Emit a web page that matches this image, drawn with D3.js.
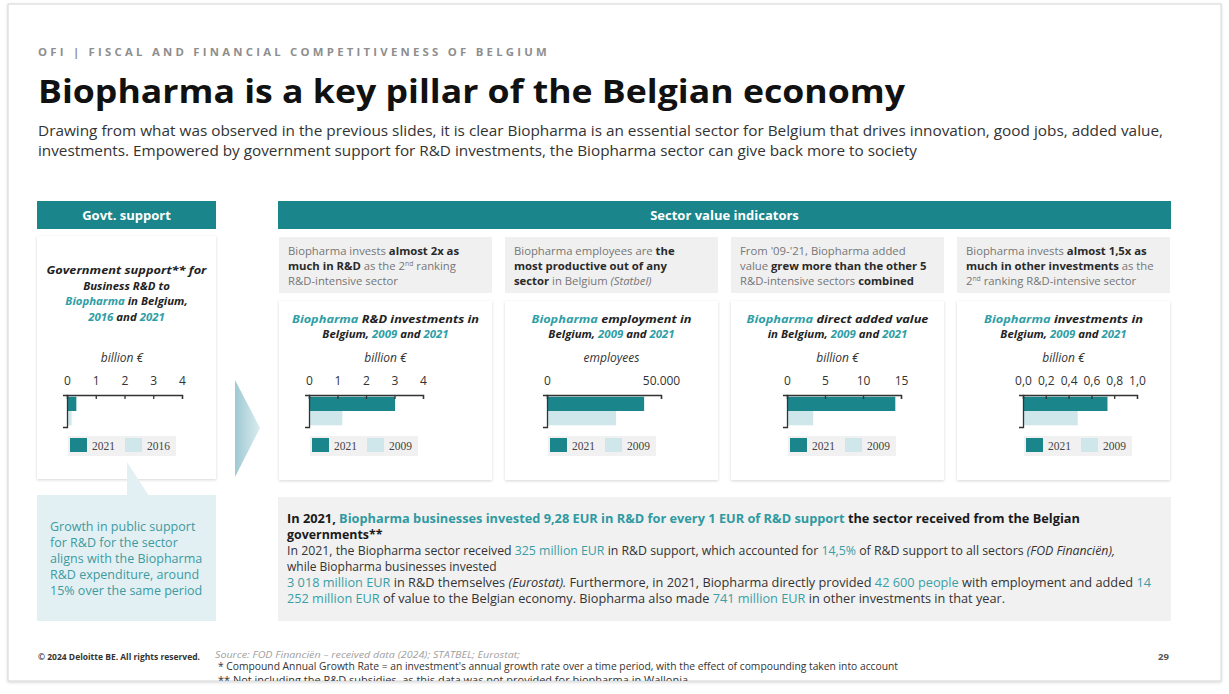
<!DOCTYPE html>
<html>
<head>
<meta charset="utf-8">
<script src="https://cdn.jsdelivr.net/npm/d3@7"></script>
<style>
  body { margin: 0; background: #fff; }
  text { font-family: "Open Sans", sans-serif; white-space: pre; }
</style>
</head>
<body>
<div id="canvas"></div>
<script>
// chart values
const govtYears = ["2021", "2016"];
const govtSupport = [0.325, 0.16];          // billion €
const govtTicks = [0, 1, 2, 3, 4];

const years = ["2021", "2009"];
const rdInvestment = [3.02, 1.17];           // billion €
const rdTicks = [0, 1, 2, 3, 4];
const employment = [42600, 30300];           // employees
const employmentTicks = [0, 50000];
const addedValue = [14.25, 3.45];            // billion €
const addedTicks = [0, 5, 10, 15];
const otherInvestment = [0.741, 0.48];       // billion €
const investTicks = [0, 0.2, 0.4, 0.6, 0.8, 1.0];

const teal = "#1a868c";
const tealText = "#2e9ea6";
const light = "#cfe6ea";
const dark = "#222";

const be = d3.formatLocale({ decimal: ",", thousands: ".", grouping: [3], currency: ["", "€"] });

const width = 1229, height = 694;
const svg = d3.select("#canvas").append("svg")
  .attr("width", width).attr("height", height);

const defs = svg.append("defs");
defs.append("filter").attr("id", "shadow").attr("x", "-10%").attr("y", "-10%").attr("width", "120%").attr("height", "120%")
  .append("feDropShadow").attr("dx", 0).attr("dy", 1).attr("stdDeviation", 1.6)
  .attr("flood-color", "#000").attr("flood-opacity", 0.16);
const grad = defs.append("linearGradient").attr("id", "arrowGrad");
grad.append("stop").attr("offset", "0%").attr("stop-color", "#9fc9d3");
grad.append("stop").attr("offset", "100%").attr("stop-color", "#d9ecef");
defs.append("clipPath").attr("id", "slideClip")
  .append("rect").attr("x", 8).attr("y", 4).attr("width", 1213).attr("height", 677);

// slide frame
svg.append("rect").attr("x", 8).attr("y", 4).attr("width", 1213).attr("height", 677)
  .attr("fill", "#fff").attr("stroke", "#d4d4d4").attr("filter", "url(#shadow)");

const slide = svg.append("g").attr("clip-path", "url(#slideClip)");

// rich text helper: segments are strings or [text, flags] (b=bold, t=teal, i=italic, ^=superscript)
function rich(g, x, y, segs, o) {
  const t = g.append("text").attr("x", x).attr("y", y)
    .attr("font-size", o.size).attr("fill", o.fill || dark)
    .attr("text-anchor", o.anchor || "start");
  if (o.bold) t.attr("font-weight", 700);
  if (o.italic) t.attr("font-style", "italic");
  if (o.family) t.style("font-family", o.family);
  if (o.spacing) t.attr("letter-spacing", o.spacing);
  segs.forEach(s => {
    const [txt, f] = typeof s === "string" ? [s, ""] : s;
    const ts = t.append("tspan").text(txt);
    if (f.includes("b")) ts.attr("font-weight", 700).attr("fill", o.boldFill || null);
    if (f.includes("t")) ts.attr("fill", o.tealFill || tealText);
    if (f.includes("i")) ts.attr("font-style", "italic");
    if (f.includes("^")) ts.attr("baseline-shift", "super").attr("font-size", "0.6em");
  });
  if (o.len) t.attr("textLength", o.len).attr("lengthAdjust", "spacingAndGlyphs");
  return t;
}

// header
rich(slide, 38, 56, ["OFI | FISCAL AND FINANCIAL COMPETITIVENESS OF BELGIUM"],
  { size: 10.5, fill: "#8e8e8e", bold: true, spacing: 3, len: 512 });
rich(slide, 38, 103, ["Biopharma is a key pillar of the Belgian economy"],
  { size: 33, fill: "#111", bold: true, len: 867 });
rich(slide, 38, 136, ["Drawing from what was observed in the previous slides, it is clear Biopharma is an essential sector for Belgium that drives innovation, good jobs, added value,"],
  { size: 14.5, fill: "#333", len: 1125 });
rich(slide, 38, 156, ["investments. Empowered by government support for R&D investments, the Biopharma sector can give back more to society"],
  { size: 14.5, fill: "#333", len: 879 });

// section bars
function sectionBar(x, w, label) {
  slide.append("rect").attr("x", x).attr("y", 201).attr("width", w).attr("height", 28).attr("fill", teal);
  rich(slide, x + w / 2, 220, [label], { size: 13, fill: "#fff", bold: true, anchor: "middle" });
}
sectionBar(37, 179, "Govt. support");
sectionBar(278, 893, "Sector value indicators");

// small bar chart
function barChart(cfg) {
  const g = slide.append("g");
  const axisY = 395;
  const x = d3.scaleLinear().domain([cfg.ticks[0], cfg.ticks[cfg.ticks.length - 1]]).range([cfg.x0, cfg.x1]);
  const y = d3.scaleBand().domain(cfg.years).range([axisY, axisY + 32]).paddingInner(0).paddingOuter(0.12);
  const data = cfg.years.map((yr, i) => ({ year: yr, value: cfg.values[i] }));

  rich(g, cfg.cx, 362, [cfg.unit], { size: 12, fill: "#333", italic: true, anchor: "middle" });

  g.selectAll("rect.bar").data(data).enter().append("rect")
    .attr("class", "bar")
    .attr("x", x(0))
    .attr("y", d => y(d.year))
    .attr("width", d => x(d.value) - x(0))
    .attr("height", y.bandwidth())
    .attr("fill", (d, i) => i === 0 ? teal : light);

  const ax = g.append("g").attr("transform", `translate(0,${axisY})`)
    .call(d3.axisTop(x).tickValues(cfg.ticks).tickFormat(cfg.fmt)
      .tickSizeInner(-4).tickSizeOuter(-4).tickPadding(10));
  ax.attr("color", "#333").attr("font-family", null).attr("font-size", null);
  ax.selectAll("path, line").attr("stroke-width", 1.3);
  ax.selectAll("text").attr("font-size", 12).attr("fill", "#333");

  const ay = g.append("g").attr("transform", `translate(${cfg.x0},0)`)
    .call(d3.axisLeft(y).tickSizeInner(0).tickSizeOuter(4).tickFormat(() => ""));
  ay.attr("color", "#333");
  ay.selectAll("path").attr("stroke-width", 1.3);

  // legend
  const lx = cfg.x0 + 3;
  g.append("rect").attr("x", lx - 2).attr("y", 436).attr("width", 108).attr("height", 20).attr("fill", "#f1f1f1");
  data.forEach((d, i) => {
    const ix = lx + i * 55;
    g.append("rect").attr("x", ix).attr("y", 438).attr("width", 17).attr("height", 14)
      .attr("fill", i === 0 ? teal : light);
    rich(g, ix + 22, 450, [d.year], { size: 11.5, fill: "#444", family: "'Liberation Serif', serif" });
  });
}

// left card: government support
slide.append("rect").attr("x", 37).attr("y", 236).attr("width", 179).attr("height", 243)
  .attr("fill", "#fff").attr("filter", "url(#shadow)");
const ltOpts = { size: 11.4, bold: true, italic: true, anchor: "middle", fill: dark };
rich(slide, 126.5, 274, ["Government support** for"], Object.assign({ len: 160 }, ltOpts));
rich(slide, 126.5, 289.5, ["Business R&D to"], ltOpts);
rich(slide, 126.5, 305, [["Biopharma", "t"], " in Belgium,"], ltOpts);
rich(slide, 126.5, 320.5, [["2016", "t"], " and ", ["2021", "t"]], ltOpts);
barChart({ x0: 67, x1: 182, cx: 122, ticks: govtTicks, fmt: d3.format("d"), years: govtYears, values: govtSupport, unit: "billion €" });

// callout
slide.append("rect").attr("x", 37).attr("y", 495).attr("width", 179).attr("height", 126).attr("fill", "#e3f0f3");
slide.append("path").attr("d", "M127,462 L127,496 L149,496 Z").attr("fill", "#e3f0f3");
["Growth in public support", "for R&D for the sector", "aligns with the Biopharma", "R&D expenditure, around", "15% over the same period"]
  .forEach((line, i) => rich(slide, 50, 531 + i * 16, [line], { size: 12.5, fill: "#3d9aa1" }));

// arrow
slide.append("path").attr("d", "M235,380 L260,428 L235,477 Z").attr("fill", "url(#arrowGrad)");

// four indicator columns
const columns = [
  {
    left: 279, axisOffset: 30, titleLen: 187,
    insight: [["Biopharma invests ", ["almost 2x as", "b"]], [["much in R&D", "b"], " as the 2", ["nd", "^"], " ranking"], ["R&D-intensive sector"]],
    title: [[["Biopharma", "t"], " R&D investments in"], ["Belgium, ", ["2009", "t"], " and ", ["2021", "t"]]],
    unit: "billion €", ticks: rdTicks, fmt: d3.format("d"), values: rdInvestment
  },
  {
    left: 505, axisOffset: 42, titleLen: 160,
    insight: [["Biopharma employees are ", ["the", "b"]], [["most productive out of any", "b"]], [["sector", "b"], " in Belgium ", ["(Statbel)", "i"]]],
    title: [[["Biopharma", "t"], " employment in"], ["Belgium, ", ["2009", "t"], " and ", ["2021", "t"]]],
    unit: "employees", ticks: employmentTicks, fmt: be.format(",d"), values: employment
  },
  {
    left: 731, axisOffset: 56, titleLen: 182,
    insight: [["From '09-'21, Biopharma added"], ["value ", ["grew more than the other 5", "b"]], ["R&D-intensive sectors ", ["combined", "b"]]],
    title: [[["Biopharma", "t"], " direct added value"], ["in Belgium, ", ["2009", "t"], " and ", ["2021", "t"]]],
    unit: "billion €", ticks: addedTicks, fmt: d3.format("d"), values: addedValue
  },
  {
    left: 957, axisOffset: 66, titleLen: 159,
    insight: [["Biopharma invests ", ["almost 1,5x as", "b"]], [["much in other investments", "b"], " as the"], ["2", ["nd", "^"], " ranking R&D-intensive sector"]],
    title: [[["Biopharma", "t"], " investments in"], ["Belgium, ", ["2009", "t"], " and ", ["2021", "t"]]],
    unit: "billion €", ticks: investTicks, fmt: be.format(".1f"), values: otherInvestment
  }
];

columns.forEach(c => {
  const w = 213, cx = c.left + w / 2;
  slide.append("rect").attr("x", c.left).attr("y", 237).attr("width", w).attr("height", 56).attr("fill", "#f0f0f0");
  c.insight.forEach((line, i) =>
    rich(slide, c.left + 9, 255 + i * 15, line, { size: 11.3, fill: "#767676", boldFill: "#2a2a2a" }));
  slide.append("rect").attr("x", c.left).attr("y", 301).attr("width", w).attr("height", 179)
    .attr("fill", "#fff").attr("filter", "url(#shadow)");
  c.title.forEach((line, i) =>
    rich(slide, cx, 322.5 + i * 15.5, line,
      Object.assign({ size: 11.4, bold: true, italic: true, anchor: "middle", fill: dark }, i === 0 ? { len: c.titleLen } : {})));
  barChart({ x0: c.left + c.axisOffset, x1: c.left + c.axisOffset + 114, cx: cx, ticks: c.ticks, fmt: c.fmt, years: years, values: c.values, unit: c.unit });
});

// summary box
slide.append("rect").attr("x", 278).attr("y", 497).attr("width", 893).attr("height", 124).attr("fill", "#f1f1f1");
const sb = { size: 12.4, bold: true, fill: "#1a1a1a", tealFill: "#2f9aa2" };
rich(slide, 287, 523, ["In 2021, ", ["Biopharma businesses invested 9,28 EUR in R&D for every 1 EUR of R&D support", "t"], " the sector received from the Belgian"], Object.assign({ len: 793 }, sb));
rich(slide, 287, 539, ["governments**"], sb);
const sr = { size: 12, fill: "#333", tealFill: "#3a9ea6" };
rich(slide, 287, 555, ["In 2021, the Biopharma sector received ", ["325 million EUR", "t"], " in R&D support, which accounted for ", ["14,5%", "t"], " of R&D support to all sectors ", ["(FOD Financiën),", "i"]], Object.assign({ len: 828 }, sr));
rich(slide, 287, 571, ["while Biopharma businesses invested"], sr);
rich(slide, 287, 587, [["3 018 million EUR", "t"], " in R&D themselves ", ["(Eurostat).", "i"], " Furthermore, in 2021, Biopharma directly provided ", ["42 600 people", "t"], " with employment and added ", ["14", "t"]], Object.assign({ len: 864 }, sr));
rich(slide, 287, 603, [["252 million EUR", "t"], " of value to the Belgian economy. Biopharma also made ", ["741 million EUR", "t"], " in other investments in that year."], Object.assign({ len: 718 }, sr));

// footer
rich(slide, 38, 660, ["© 2024 Deloitte BE. All rights reserved."], { size: 9.5, fill: "#333", bold: true, len: 162 });
rich(slide, 215, 658, ["Source: FOD Financiën – received data (2024); STATBEL; Eurostat;"], { size: 9.5, fill: "#a0a0a0", italic: true, len: 305 });
rich(slide, 218, 670, ["* Compound Annual Growth Rate = an investment's annual growth rate over a time period, with the effect of compounding taken into account"], { size: 10, fill: "#333", len: 680 });
rich(slide, 218, 684, ["** Not including the R&D subsidies, as this data was not provided for biopharma in Wallonia"], { size: 10, fill: "#333", len: 470 });
rich(slide, 1158, 660, ["29"], { size: 9.5, fill: "#555", bold: true });
</script>
</body>
</html>
